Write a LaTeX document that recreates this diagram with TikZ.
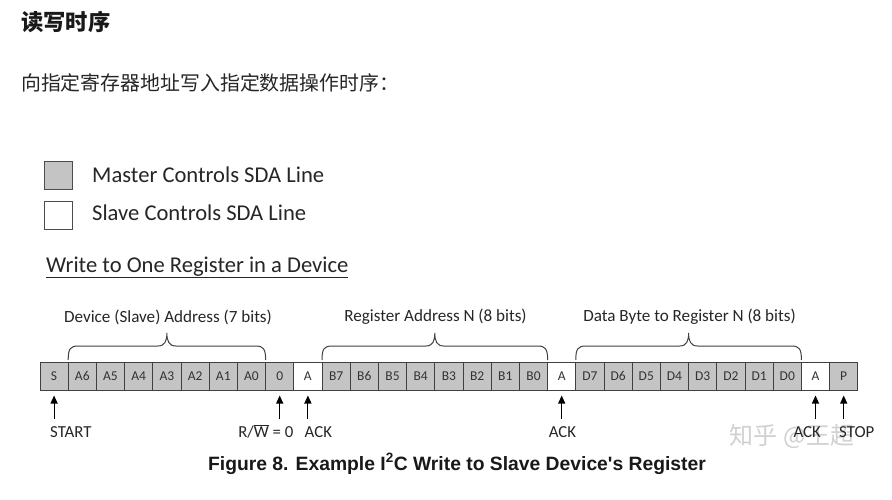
\documentclass[tikz,border=0pt]{standalone}
\usepackage{fontspec}
\setmainfont{Carlito}[Numbers=Lining]
\newfontfamily\cjk{Noto Sans CJK SC}
\newfontfamily\arialf{Liberation Sans}
\usetikzlibrary{arrows.meta,calc}
\newcommand\ibrace[2]{%
  \pgfmathsetmacro\bm{(#1+#2)/2}%
  \draw[brc] (#1,360) .. controls (#1,349) and (#1+2,346) .. (#1+10,346)
    -- (\bm-9,346) .. controls (\bm-2,346) and (\bm,341) .. (\bm,333)
    .. controls (\bm,341) and (\bm+2,346) .. (\bm+9,346)
    -- (#2-10,346) .. controls (#2-2,346) and (#2,349) .. (#2,360);}
\begin{document}
\begin{tikzpicture}[x=1pt,y=-1pt,
  cell/.style={draw=black!75, line width=1pt, minimum width=28.2pt, minimum height=28pt,
    inner sep=0pt, text height=8.6pt, text depth=0pt,
    font=\fontsize{13.5}{15}\selectfont, text=black!80},
  m cell/.style={cell, fill=black!23},
  s cell/.style={cell, fill=white},
  lab/.style={inner sep=0pt, font=\fontsize{16.8}{19}\selectfont, text=black!85},
  blab/.style={inner sep=0pt, font=\fontsize{17.1}{20}\selectfont, text=black!85, anchor=base},
  arr/.style={line width=1.1pt, -{Triangle[width=7pt,length=8pt]}},
  brc/.style={line width=1pt, draw=black!75},
  legbox/.style={draw=black!70, line width=0.9pt, minimum size=28pt, inner sep=0pt},
  legtxt/.style={anchor=west, inner sep=0pt, font=\fontsize{22.6}{26}\selectfont, text=black!85},
]
\useasboundingbox[fill=white] (0,0) rectangle (892,500);

% Chinese headings
\node[anchor=west, inner sep=0pt, font=\cjk\bfseries\fontsize{22.3}{26}\selectfont, text=black!90] (h1) at (21,22) {读写时序};
\node[anchor=west, inner sep=0pt, font=\cjk\fontsize{19.9}{23}\selectfont, text=black!85] (h2) at (21,83) {向指定寄存器地址写入指定数据操作时序：};

% legend
\node[legbox, fill=black!23] (lm) at (58,175) {};
\node[legbox, fill=white] (ls) at (58,215) {};
\node[legtxt] (tm) at (92,175) {Master Controls SDA Line};
\node[legtxt] (ts) at (92,213) {Slave Controls SDA Line};

\node[anchor=base west, inner sep=0pt, font=\fontsize{22.6}{26}\selectfont, text=black!85] (wt) at (46,272) {\underline{Write to One Register in a Device}};

% cells
\foreach \lab/\kind [count=\i] in {S/m,A6/m,A5/m,A4/m,A3/m,A2/m,A1/m,A0/m,0/m,A/s,
  B7/m,B6/m,B5/m,B4/m,B3/m,B2/m,B1/m,B0/m,A/s,
  D7/m,D6/m,D5/m,D4/m,D3/m,D2/m,D1/m,D0/m,A/s,P/m}
  \node[\kind\space cell] (c\i) at ({40+28.2*(\i-0.5)},376.5) {\lab};

% braces
\ibrace{68.2}{265.6}
\ibrace{322}{547.6}
\ibrace{575.8}{801.4}
\node[blab] (b1) at (168,322.5) {Device (Slave) Address (7 bits)};
\node[blab] (b2) at (435.5,321.5) {Register Address N (8 bits)};
\node[blab] (b3) at (689.5,321.5) {Data Byte to Register N (8 bits)};

% watermark
\node[inner sep=0pt, font=\cjk\fontsize{24}{28}\selectfont, text=black!18] (wm) at (792,436) {知乎 @王超};

% labels below
\node[lab, anchor=base west] (l1) at (50,437) {START};
\node[lab, anchor=base east] (l9) at (293.5,437) {R/$\overline{\mbox{W}}$ = 0};
\node[lab, anchor=base west] (l10) at (304.5,437) {ACK};
\node[lab, anchor=base] (l19) at (562.5,437) {ACK};
\node[lab, anchor=base east] (l28) at (821,437) {ACK};
\node[lab, anchor=base west] (l29) at (839,437) {STOP};

\foreach \c in {1,9,10,19,28,29}
  \draw[arr] ($(c\c.south)+(0,28)$) -- ($(c\c.south)+(0,4.5)$);

% caption
\node[anchor=base, inner sep=0pt, font=\arialf\bfseries\fontsize{19.3}{22}\selectfont, text=black!90] (cap) at (457,470)
  {Figure 8. Example I\textsuperscript{2}C Write to Slave Device's Register};
\end{tikzpicture}
\end{document}
